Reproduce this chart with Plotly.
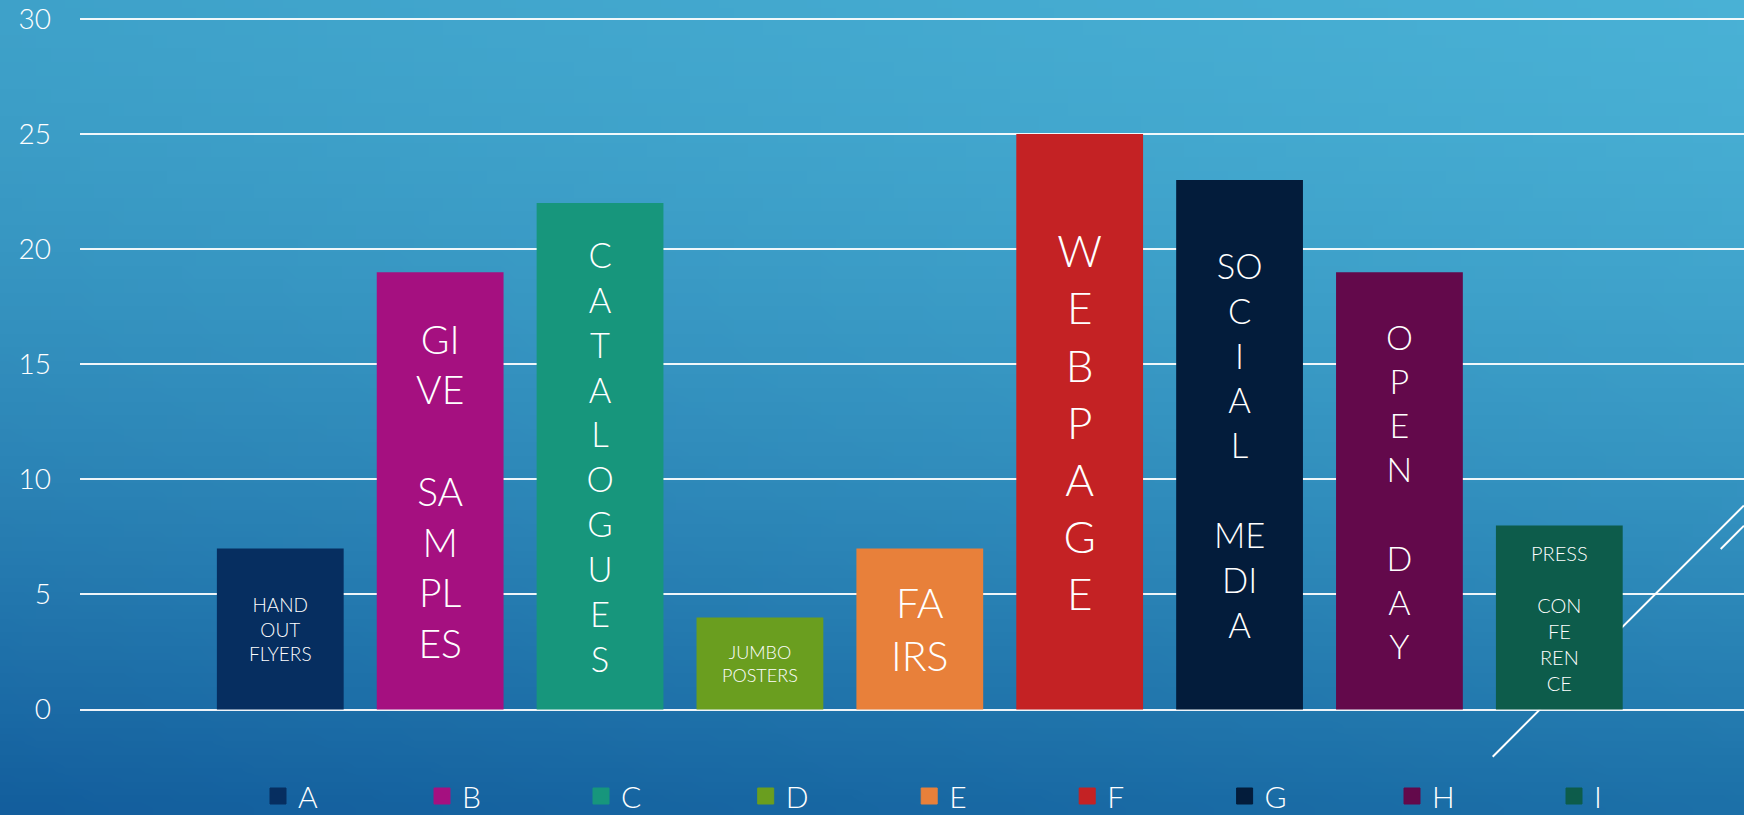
import base64
import struct
import zlib

import plotly.graph_objects as go

# ---------------- data ----------------
categories = ["A", "B", "C", "D", "E", "F", "G", "H", "I"]
values = [7, 19, 22, 4, 7, 25, 23, 19, 8]
bar_labels = [
    "HAND<br>OUT<br>FLYERS",
    "GI<br>VE<br><br>SA<br>M<br>PL<br>ES",
    "C<br>A<br>T<br>A<br>L<br>O<br>G<br>U<br>E<br>S",
    "JUMBO<br>POSTERS",
    "FA<br>IRS",
    "W<br>E<br>B<br>P<br>A<br>G<br>E",
    "SO<br>C<br>I<br>A<br>L<br><br>ME<br>DI<br>A",
    "O<br>P<br>E<br>N<br><br>D<br>A<br>Y",
    "PRESS<br><br>CON<br>FE<br>REN<br>CE",
]
y_ticks = [0, 5, 10, 15, 20, 25, 30]

# ---------------- styles ----------------
bar_colors = ["#062E60", "#A51080", "#17967C", "#6A9E1F", "#E8803A",
              "#C42224", "#031C3B", "#63094B", "#0D5C4B"]
label_sizes = [19, 39, 34.5, 18, 41, 44, 34.5, 34, 20]
legend_widths = [119, 114, 119.7, 118.5, 113, 112.4, 122.4, 117, 40]
FONT = "Lato"
W, H = 1744, 815
ML = 80


def gradient_png(w, h):
    tl, tr = (62, 161, 201), (73, 177, 213)
    bl, br = (19, 94, 157), (28, 112, 168)
    raw = bytearray()
    for j in range(h):
        ty = (j / (h - 1)) ** 1.5
        raw.append(0)
        for i in range(w):
            tx = i / (w - 1)
            for c in range(3):
                top = tl[c] + (tr[c] - tl[c]) * tx
                bot = bl[c] + (br[c] - bl[c]) * tx
                raw.append(int(round(top + (bot - top) * ty)))

    def chunk(tag, data):
        return (struct.pack(">I", len(data)) + tag + data
                + struct.pack(">I", zlib.crc32(tag + data) & 0xFFFFFFFF))

    png = (b"\x89PNG\r\n\x1a\n"
           + chunk(b"IHDR", struct.pack(">IIBBBBB", w, h, 8, 2, 0, 0, 0))
           + chunk(b"IDAT", zlib.compress(bytes(raw), 9))
           + chunk(b"IEND", b""))
    return "data:image/png;base64," + base64.b64encode(png).decode()


fig = go.Figure()

for cat, val, lab, col, fs, lw in zip(categories, values, bar_labels, bar_colors,
                                      label_sizes, legend_widths):
    fig.add_trace(go.Bar(
        x=[cat], y=[val], name=cat,
        marker=dict(color=col, line=dict(width=0)),
        width=0.793,
        text=[lab], textposition="inside", insidetextanchor="middle",
        textangle=0,
        textfont=dict(family=FONT, size=fs, color="white", weight=300),
        showlegend=False, legendgroup=cat,
    ))
    # legend proxy (square swatch)
    fig.add_trace(go.Scatter(
        x=[None], y=[None], name=cat, mode="markers",
        marker=dict(symbol="square", size=16, color=col, line=dict(width=1, color=col)),
        legendgroup=cat, showlegend=True, legendwidth=lw,
    ))

# decorative diagonal lines (bottom right)
for x0, y0, x1, y1 in [(1492.7, 756.7, 1744, 505.4), (1720.7, 549, 1744, 525.7)]:
    fig.add_shape(type="line", xref="paper", yref="paper",
                  x0=(x0 - ML) / (W - ML), y0=1 - y0 / H,
                  x1=(x1 - ML) / (W - ML), y1=1 - y1 / H,
                  line=dict(color="white", width=2), layer="below")

fig.add_layout_image(dict(
    source=gradient_png(120, 60), xref="paper", yref="paper",
    x=-ML / (W - ML), y=1, sizex=W / (W - ML), sizey=1,
    xanchor="left", yanchor="top", sizing="stretch", layer="below",
))

px_per_unit = (709.6 - 18.9) / 30
fig.update_layout(
    width=W, height=H,
    margin=dict(l=ML, r=0, t=0, b=0, autoexpand=False),
    paper_bgcolor="#1E6FA8", plot_bgcolor="rgba(0,0,0,0)",
    barmode="overlay",
    font=dict(family=FONT, color="white"),
    showlegend=True,
    legend=dict(
        orientation="h", x=(258 - ML) / (W - ML), xanchor="left",
        y=(H - 796) / H, yanchor="middle",
        font=dict(family=FONT, size=30, color="white", weight=300),
        bgcolor="rgba(0,0,0,0)", itemclick=False, itemdoubleclick=False,
    ),
    xaxis=dict(
        type="category", categoryorder="array", categoryarray=categories,
        range=[-(280.3 - ML) / 159.9, 8 + (W - 1559.3) / 159.9],
        showticklabels=False, showgrid=False, zeroline=False, showline=False,
        fixedrange=True,
    ),
    yaxis=dict(
        range=[-(H - 709.6) / px_per_unit, 30 + 18.9 / px_per_unit],
        tickvals=y_ticks, ticktext=[str(v) for v in y_ticks],
        tickfont=dict(family=FONT, size=28, color="white", weight=300),
        showgrid=True, gridcolor="rgba(255,255,255,0.92)", gridwidth=2,
        zeroline=True, zerolinecolor="rgba(255,255,255,0.92)", zerolinewidth=2,
        showline=False, ticks="", ticklabelstandoff=28, automargin=False,
        fixedrange=True,
    ),
)

fig.write_html("out.html", include_plotlyjs=True,
               config={"displayModeBar": False},
               post_script="document.body.style.margin='0';document.body.style.overflow='hidden';")
